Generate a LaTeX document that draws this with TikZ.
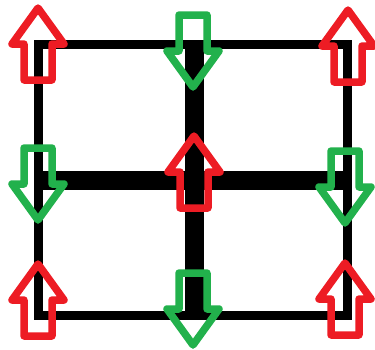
\documentclass[tikz,border=0pt]{standalone}
\usepackage{xcolor}
\usepackage{tikz}

\definecolor{paintred}{RGB}{237,28,36}
\definecolor{paintgreen}{RGB}{34,177,76}

\begin{document}
\begin{tikzpicture}[
	x=1pt, y=-1pt,
	outer line/.style={
		draw=black,
		line width=9pt,
		line join=miter
	},
	inner line/.style={
		draw=black,
		line width=19pt
	},
	block/.style={
		line width=7.5pt,
		line join=round
	},
	up arrow/.pic={
		\draw[block] (0,-36) -- (26,0) -- (14,0) -- (14,36)
			-- (-14,36) -- (-14,0) -- (-26,0) -- cycle;
	}
	]
	
	\useasboundingbox (0,0) rectangle (375,349);
	
	% grid points
	\coordinate (tl) at (38,44);
	\coordinate (tm) at (194,44);
	\coordinate (tr) at (347,44);
	\coordinate (ml) at (38,180);
	\coordinate (mr) at (347,180);
	\coordinate (bl) at (38,315);
	\coordinate (bm) at (194,315);
	\coordinate (br) at (347,315);
	
	\draw[inner line] (tm) -- (bm);
	\draw[inner line] (ml) -- (mr);
	\draw[outer line] (tl) -- (tr) -- (br) -- (bl) -- cycle;
	
	% red arrows, pointing up
	\pic[paintred] at (38,44) {up arrow};
	\pic[paintred] at (348,46) {up arrow};
	\pic[paintred] at (194,172) {up arrow};
	\pic[paintred] at (38,300) {up arrow};
	\pic[paintred] at (345,299) {up arrow};
	
	% green arrows, pointing down
	\pic[paintgreen,rotate=180] at (193,51) {up arrow};
	\pic[paintgreen,rotate=180] at (38,184) {up arrow};
	\pic[paintgreen,rotate=180] at (345,187) {up arrow};
	\pic[paintgreen,rotate=180] at (193,309) {up arrow};
	
\end{tikzpicture}
\end{document}
